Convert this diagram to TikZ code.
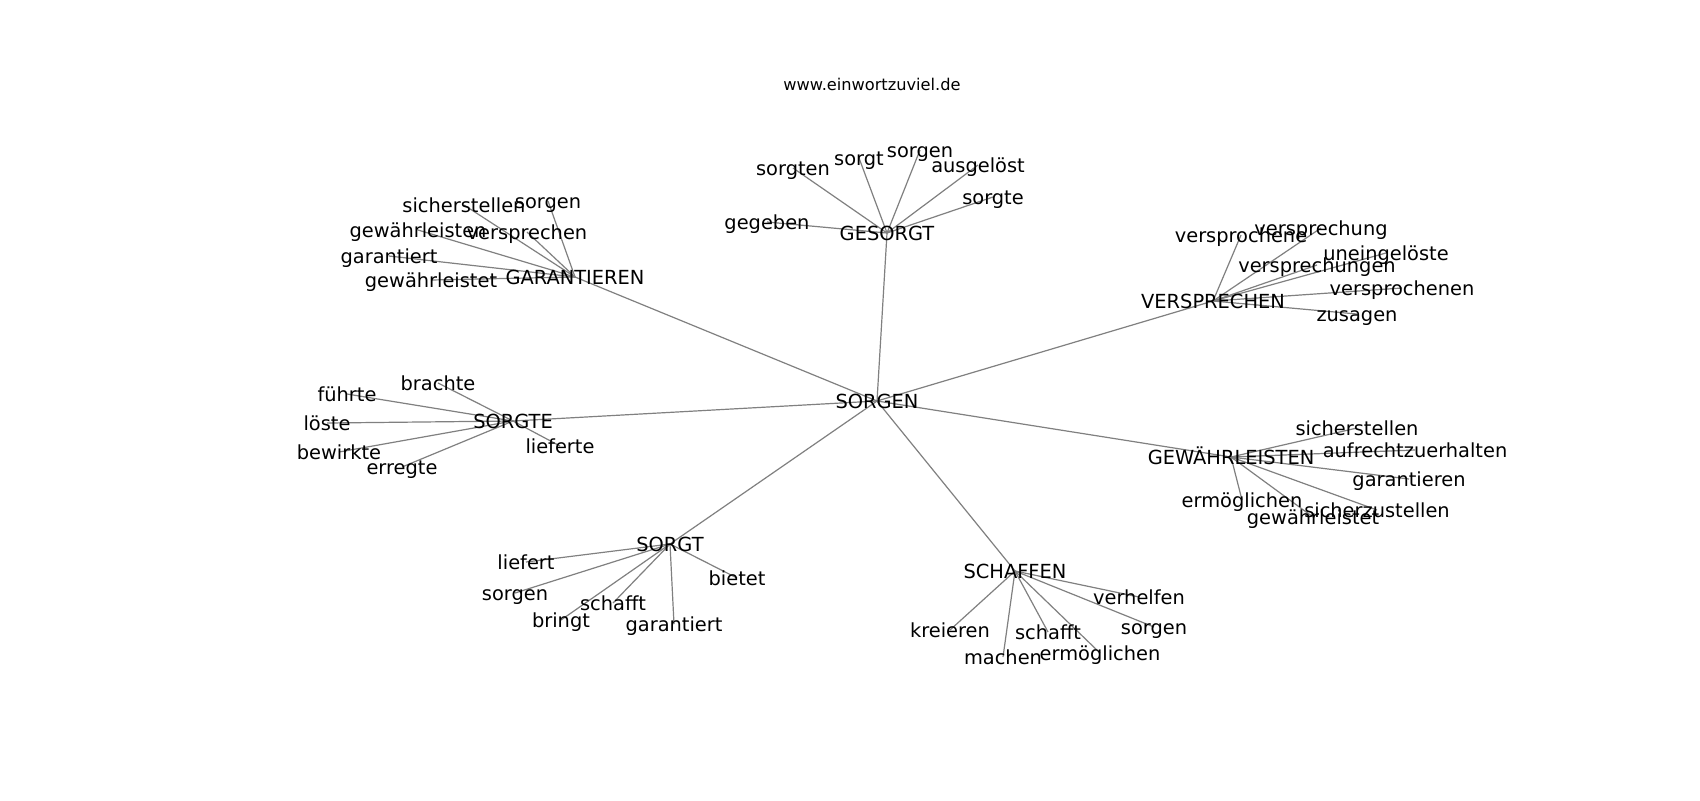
\documentclass[tikz,border=0pt]{standalone}
\usepackage{fontspec}
\setmainfont{DejaVu Sans}
\usetikzlibrary{backgrounds}
\begin{document}
\begin{tikzpicture}[x=0.5pt,y=-0.5pt,
  lbl/.style={inner sep=0pt, font=\fontsize{9.7}{11}\selectfont, text height=0.95em, text depth=0.18em},
  ttl/.style={inner sep=0pt, font=\fontsize{8.1}{10}\selectfont, text height=0.9em, text depth=0.18em},
  edge/.style={draw=gray, line width=0.6pt}]
\useasboundingbox (0,0) rectangle (1700,800);
\node[ttl] (url) at (872,83) {www.einwortzuviel.de};
% hubs
\node[lbl] (sorgen) at (877,401) {SORGEN};
\node[lbl] (garantieren) at (575,277) {GARANTIEREN};
\node[lbl] (gesorgt) at (887,233) {GESORGT};
\node[lbl] (versprechen) at (1213,301) {VERSPRECHEN};
\node[lbl] (sorgte) at (513,421) {SORGTE};
\node[lbl] (gewaehrleisten) at (1231,457) {GEWÄHRLEISTEN};
\node[lbl] (sorgt) at (670,544) {SORGT};
\node[lbl] (schaffen) at (1015,571) {SCHAFFEN};
% GARANTIEREN
\node[lbl] (ga1) at (464,205) {sicherstellen};
\node[lbl] (ga2) at (548,201) {sorgen};
\node[lbl] (ga3) at (418,230) {gewährleisten};
\node[lbl] (ga4) at (527,232) {versprechen};
\node[lbl] (ga5) at (389,256) {garantiert};
\node[lbl] (ga6) at (431,280) {gewährleistet};
% GESORGT
\node[lbl] (ge1) at (793,168) {sorgten};
\node[lbl] (ge2) at (859,158) {sorgt};
\node[lbl] (ge3) at (920,150) {sorgen};
\node[lbl] (ge4) at (978,165) {ausgelöst};
\node[lbl] (ge5) at (993,197) {sorgte};
\node[lbl] (ge6) at (767,222) {gegeben};
% VERSPRECHEN
\node[lbl] (ve1) at (1241,235) {versprochene};
\node[lbl] (ve2) at (1321,228) {versprechung};
\node[lbl] (ve3) at (1317,265) {versprechungen};
\node[lbl] (ve4) at (1386,253) {uneingelöste};
\node[lbl] (ve5) at (1402,288) {versprochenen};
\node[lbl] (ve6) at (1357,314) {zusagen};
% SORGTE
\node[lbl] (st1) at (438,383) {brachte};
\node[lbl] (st2) at (347,394) {führte};
\node[lbl] (st3) at (327,423) {löste};
\node[lbl] (st4) at (339,452) {bewirkte};
\node[lbl] (st5) at (402,467) {erregte};
\node[lbl] (st6) at (560,446) {lieferte};
% GEWAEHRLEISTEN
\node[lbl] (gw1) at (1357,428) {sicherstellen};
\node[lbl] (gw2) at (1415,450) {aufrechtzuerhalten};
\node[lbl] (gw3) at (1409,479) {garantieren};
\node[lbl] (gw4) at (1242,500) {ermöglichen};
\node[lbl] (gw5) at (1313,517) {gewährleistet};
\node[lbl] (gw6) at (1377,510) {sicherzustellen};
% SORGT
\node[lbl] (so1) at (526,562) {liefert};
\node[lbl] (so2) at (515,593) {sorgen};
\node[lbl] (so3) at (613,603) {schafft};
\node[lbl] (so4) at (561,620) {bringt};
\node[lbl] (so5) at (674,624) {garantiert};
\node[lbl] (so6) at (737,578) {bietet};
% SCHAFFEN
\node[lbl] (sc1) at (1139,597) {verhelfen};
\node[lbl] (sc2) at (950,630) {kreieren};
\node[lbl] (sc3) at (1048,632) {schafft};
\node[lbl] (sc4) at (1154,627) {sorgen};
\node[lbl] (sc5) at (1003,657) {machen};
\node[lbl] (sc6) at (1100,653) {ermöglichen};
\begin{pgfonlayer}{background}
\fill[white] (0,0) rectangle (1700,800);
\foreach \h in {garantieren,gesorgt,versprechen,sorgte,gewaehrleisten,sorgt,schaffen}
  \draw[edge] (sorgen.center) -- (\h.center);
\foreach \c in {ga1,ga2,ga3,ga4,ga5,ga6} \draw[edge] (garantieren.center) -- (\c.center);
\foreach \c in {ge1,ge2,ge3,ge4,ge5,ge6} \draw[edge] (gesorgt.center) -- (\c.center);
\foreach \c in {ve1,ve2,ve3,ve4,ve5,ve6} \draw[edge] (versprechen.center) -- (\c.center);
\foreach \c in {st1,st2,st3,st4,st5,st6} \draw[edge] (sorgte.center) -- (\c.center);
\foreach \c in {gw1,gw2,gw3,gw4,gw5,gw6} \draw[edge] (gewaehrleisten.center) -- (\c.center);
\foreach \c in {so1,so2,so3,so4,so5,so6} \draw[edge] (sorgt.center) -- (\c.center);
\foreach \c in {sc1,sc2,sc3,sc4,sc5,sc6} \draw[edge] (schaffen.center) -- (\c.center);
\end{pgfonlayer}
\end{tikzpicture}
\end{document}
